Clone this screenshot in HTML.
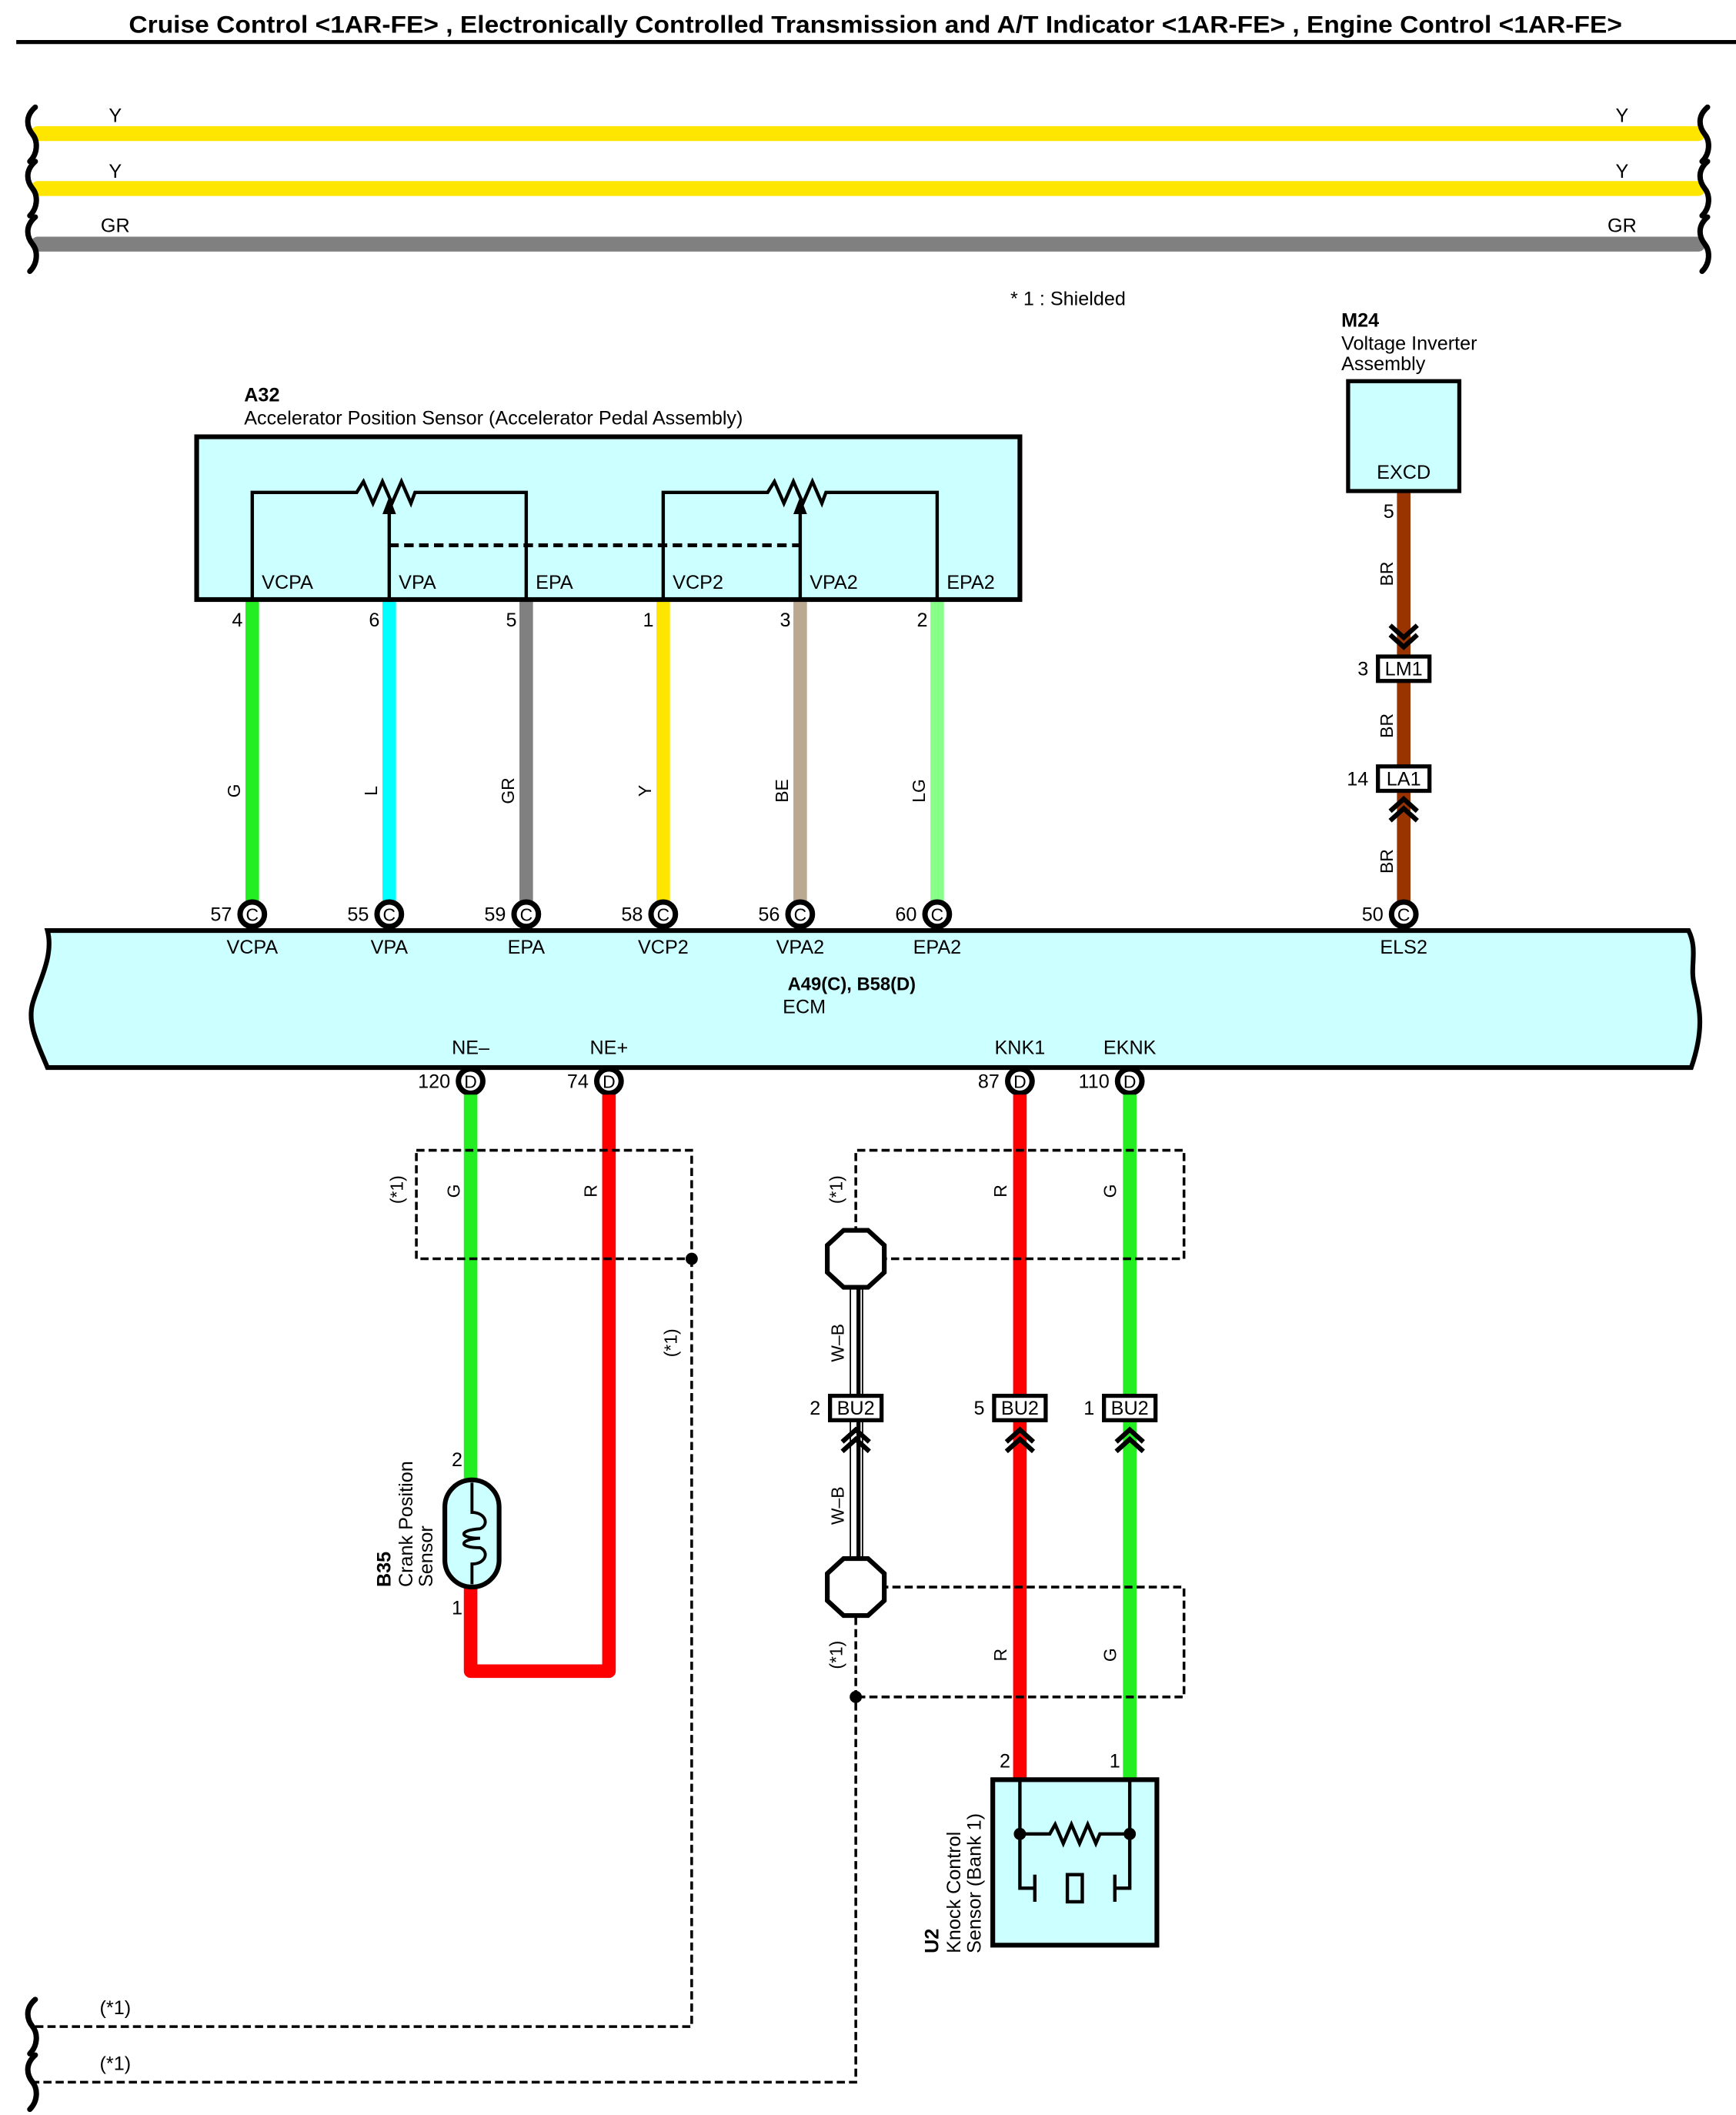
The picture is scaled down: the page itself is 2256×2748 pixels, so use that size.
<!DOCTYPE html>
<html><head><meta charset="utf-8"><style>html,body{margin:0;padding:0;background:#fff}svg{display:block}</style></head><body>
<svg xmlns="http://www.w3.org/2000/svg" width="2256" height="2748" viewBox="0 0 1280 1559.2" preserveAspectRatio="none" font-family="Liberation Sans, Arial, sans-serif" font-size="14.3">
<defs>
<path id="brk" d="M26,-20 C18,-13 20,-5 24,0 C28,5 28,14 22,20" fill="none" stroke="#000" stroke-width="4" stroke-linecap="round"/>
<g id="chD"><polyline points="-10,-9 0,0 10,-9" fill="none" stroke="#000" stroke-width="3.5"/><polyline points="-10,-2 0,7 10,-2" fill="none" stroke="#000" stroke-width="3.5"/></g>
<g id="chU"><polyline points="-10,9 0,0 10,9" fill="none" stroke="#000" stroke-width="3.5"/><polyline points="-10,2 0,-7 10,2" fill="none" stroke="#000" stroke-width="3.5"/></g>
</defs>
<rect width="1280" height="1560" fill="#fff"/>
<text x="95" y="24" font-size="18" font-weight="bold" textLength="1101" lengthAdjust="spacingAndGlyphs">Cruise Control &lt;1AR-FE&gt; , Electronically Controlled Transmission and A/T Indicator &lt;1AR-FE&gt; , Engine Control &lt;1AR-FE&gt;</text>
<line x1="12" y1="31" x2="1280" y2="31" stroke="#000" stroke-width="3"/>

<g stroke-width="11" stroke-linecap="round">
<line x1="28" y1="98.5" x2="1252" y2="98.5" stroke="#ffe600"/>
<line x1="28" y1="139" x2="1252" y2="139" stroke="#ffe600"/>
<line x1="28" y1="180" x2="1252" y2="180" stroke="#808080"/>
</g>
<use href="#brk" x="0" y="99"/><use href="#brk" x="0" y="139"/><use href="#brk" x="0" y="180"/>
<use href="#brk" x="1233" y="99"/><use href="#brk" x="1233" y="139"/><use href="#brk" x="1233" y="180"/>
<text x="85" y="90" text-anchor="middle">Y</text><text x="85" y="131" text-anchor="middle">Y</text><text x="85" y="171" text-anchor="middle">GR</text>
<text x="1196" y="90" text-anchor="middle">Y</text><text x="1196" y="131" text-anchor="middle">Y</text><text x="1196" y="171" text-anchor="middle">GR</text>

<text x="745" y="225">* 1 : Shielded</text>

<text x="989" y="241" font-weight="bold">M24</text>
<text x="989" y="258">Voltage Inverter</text>
<text x="989" y="273">Assembly</text>
<line x1="1035" y1="362" x2="1035" y2="668" stroke="#993300" stroke-width="10"/>
<rect x="994" y="281" width="82" height="81" fill="#ccffff" stroke="#000" stroke-width="3"/>
<text x="1035" y="353" text-anchor="middle">EXCD</text>
<text x="1024" y="382" text-anchor="middle">5</text>
<use href="#chD" x="1035" y="470"/>
<rect x="1016" y="484" width="38" height="18" fill="#fff" stroke="#000" stroke-width="3"/>
<text x="1035" y="498" text-anchor="middle">LM1</text><text x="1005" y="498" text-anchor="middle">3</text>
<rect x="1016" y="565" width="38" height="18" fill="#fff" stroke="#000" stroke-width="3"/>
<text x="1035" y="579" text-anchor="middle">LA1</text><text x="1001" y="579" text-anchor="middle">14</text>
<use href="#chU" x="1035" y="596"/>
<g font-size="13">
<text transform="translate(1027,423) rotate(-90)" text-anchor="middle">BR</text>
<text transform="translate(1027,535) rotate(-90)" text-anchor="middle">BR</text>
<text transform="translate(1027,635) rotate(-90)" text-anchor="middle">BR</text>
</g>

<text x="180" y="296" font-weight="bold">A32</text>
<text x="180" y="313">Accelerator Position Sensor (Accelerator Pedal Assembly)</text>
<g stroke-width="10">
<line x1="186" y1="442" x2="186" y2="664" stroke="#22ee22"/>
<line x1="287" y1="442" x2="287" y2="664" stroke="#00ffff"/>
<line x1="388" y1="442" x2="388" y2="664" stroke="#808080"/>
<line x1="489" y1="442" x2="489" y2="664" stroke="#ffe600"/>
<line x1="590" y1="442" x2="590" y2="664" stroke="#bba890"/>
<line x1="691" y1="442" x2="691" y2="664" stroke="#88ff88"/>
</g>
<rect x="145" y="322" width="607" height="120" fill="#ccffff" stroke="#000" stroke-width="3.5"/>
<g fill="none" stroke="#000" stroke-width="2.5">
<polyline points="186,442 186,363 263,363 268,355 275,371 282,355 289,371 296,355 303,371 306,363 388,363 388,442"/>
<line x1="287" y1="442" x2="287" y2="378"/>
<polyline points="489,442 489,363 566,363 571,355 578,371 585,355 592,371 599,355 606,371 609,363 691,363 691,442"/>
<line x1="590" y1="442" x2="590" y2="378"/>
<line x1="287" y1="402" x2="590" y2="402" stroke-dasharray="7,4" stroke-width="2.8"/>
</g>
<polygon points="287,366 282,379 292,379" fill="#000"/>
<polygon points="590,366 585,379 595,379" fill="#000"/>
<text x="193" y="434">VCPA</text><text x="294" y="434">VPA</text><text x="395" y="434">EPA</text>
<text x="496" y="434">VCP2</text><text x="597" y="434">VPA2</text><text x="698" y="434">EPA2</text>
<text x="175" y="462" text-anchor="middle">4</text><text x="276" y="462" text-anchor="middle">6</text><text x="377" y="462" text-anchor="middle">5</text>
<text x="478" y="462" text-anchor="middle">1</text><text x="579" y="462" text-anchor="middle">3</text><text x="680" y="462" text-anchor="middle">2</text>
<g font-size="13">
<text transform="translate(177,583) rotate(-90)" text-anchor="middle">G</text>
<text transform="translate(278,583) rotate(-90)" text-anchor="middle">L</text>
<text transform="translate(379,583) rotate(-90)" text-anchor="middle">GR</text>
<text transform="translate(480,583) rotate(-90)" text-anchor="middle">Y</text>
<text transform="translate(581,583) rotate(-90)" text-anchor="middle">BE</text>
<text transform="translate(682,583) rotate(-90)" text-anchor="middle">LG</text>
</g>

<path d="M35,686 L1245,686 C1252,700 1246,712 1249,725 C1252,740 1258,755 1247,787 L35,787 C28,770 20,755 24,740 C28,725 40,705 35,686 Z" fill="#ccffff" stroke="#000" stroke-width="3.5"/>
<g fill="#fff" stroke="#000" stroke-width="4">
<circle cx="186" cy="674" r="9"/><circle cx="287" cy="674" r="9"/><circle cx="388" cy="674" r="9"/>
<circle cx="489" cy="674" r="9"/><circle cx="590" cy="674" r="9"/><circle cx="691" cy="674" r="9"/><circle cx="1035" cy="674" r="9"/>
<circle cx="347" cy="797" r="9"/><circle cx="449" cy="797" r="9"/><circle cx="752" cy="797" r="9"/><circle cx="833" cy="797" r="9"/>
</g>
<g text-anchor="middle" font-size="13">
<text x="186" y="679">C</text><text x="287" y="679">C</text><text x="388" y="679">C</text><text x="489" y="679">C</text><text x="590" y="679">C</text><text x="691" y="679">C</text><text x="1035" y="679">C</text>
<text x="347" y="802">D</text><text x="449" y="802">D</text><text x="752" y="802">D</text><text x="833" y="802">D</text>
</g>
<g text-anchor="end">
<text x="171" y="679">57</text><text x="272" y="679">55</text><text x="373" y="679">59</text><text x="474" y="679">58</text><text x="575" y="679">56</text><text x="676" y="679">60</text><text x="1020" y="679">50</text>
<text x="332" y="802">120</text><text x="434" y="802">74</text><text x="737" y="802">87</text><text x="818" y="802">110</text>
</g>
<g text-anchor="middle">
<text x="186" y="703">VCPA</text><text x="287" y="703">VPA</text><text x="388" y="703">EPA</text><text x="489" y="703">VCP2</text><text x="590" y="703">VPA2</text><text x="691" y="703">EPA2</text><text x="1035" y="703">ELS2</text>
<text x="628" y="730" font-weight="bold" font-size="13.5">A49(C), B58(D)</text>
<text x="593" y="747">ECM</text>
<text x="347" y="777">NE–</text><text x="449" y="777">NE+</text><text x="752" y="777">KNK1</text><text x="833" y="777">EKNK</text>
</g>

<line x1="347" y1="807" x2="347" y2="1092" stroke="#22ee22" stroke-width="10"/>
<polyline points="449,807 449,1232 347,1232 347,1168" fill="none" stroke="#ff0000" stroke-width="10" stroke-linejoin="round"/>
<rect x="328" y="1091" width="40" height="79" rx="20" fill="#ccffff" stroke="#000" stroke-width="3.5"/>
<path d="M348,1093 L348,1115 C358,1115 361,1124 354,1127 C338,1128 338,1134 354,1134 C338,1135 338,1141 354,1141 C361,1144 358,1153 348,1153 L348,1168" fill="none" stroke="#000" stroke-width="2.2"/>
<text x="337" y="1081" text-anchor="middle">2</text><text x="337" y="1190" text-anchor="middle">1</text>
<text transform="translate(288,1170) rotate(-90)" font-weight="bold">B35</text>
<text transform="translate(304,1170) rotate(-90)">Crank Position</text>
<text transform="translate(319,1170) rotate(-90)">Sensor</text>
<g fill="none" stroke="#000" stroke-width="2" stroke-dasharray="6,3">
<rect x="307" y="848" width="203" height="80"/>
<polyline points="510,928 510,1494 25,1494"/>
</g>
<circle cx="510" cy="928" r="4.5"/>
<g font-size="13">
<text transform="translate(297,877) rotate(-90)" text-anchor="middle">(*1)</text>
<text transform="translate(339,878) rotate(-90)" text-anchor="middle">G</text>
<text transform="translate(440,878) rotate(-90)" text-anchor="middle">R</text>
<text transform="translate(499,990) rotate(-90)" text-anchor="middle">(*1)</text>
</g>

<line x1="752" y1="807" x2="752" y2="1311" stroke="#ff0000" stroke-width="10"/>
<line x1="833" y1="807" x2="833" y2="1311" stroke="#22ee22" stroke-width="10"/>
<g fill="none" stroke="#000" stroke-width="2" stroke-dasharray="6,3">
<polyline points="631,928 631,848 873,848 873,928 631,928"/>
<polyline points="631,1170 873,1170 873,1251 631,1251"/>
<polyline points="631,1192 631,1535 25,1535"/>
</g>
<circle cx="631" cy="1251" r="4.5"/>
<rect x="627" y="948" width="9" height="202" fill="#fff" stroke="#000" stroke-width="1"/>
<line x1="633" y1="948" x2="633" y2="1150" stroke="#000" stroke-width="3"/>
<polygon points="622,907 640,907 652,918 652,938 640,949 622,949 610,938 610,918" fill="#fff" stroke="#000" stroke-width="3.5"/>
<polygon points="622,1149 640,1149 652,1160 652,1180 640,1191 622,1191 610,1180 610,1160" fill="#fff" stroke="#000" stroke-width="3.5"/>
<g fill="#fff" stroke="#000" stroke-width="3">
<rect x="612" y="1029" width="38" height="18"/><rect x="733" y="1029" width="38" height="18"/><rect x="814" y="1029" width="38" height="18"/>
</g>
<g text-anchor="middle">
<text x="631" y="1043">BU2</text><text x="752" y="1043">BU2</text><text x="833" y="1043">BU2</text>
<text x="601" y="1043">2</text><text x="722" y="1043">5</text><text x="803" y="1043">1</text>
</g>
<use href="#chU" x="631" y="1061"/><use href="#chU" x="752" y="1061"/><use href="#chU" x="833" y="1061"/>
<g font-size="13">
<text transform="translate(621,877) rotate(-90)" text-anchor="middle">(*1)</text>
<text transform="translate(742,878) rotate(-90)" text-anchor="middle">R</text>
<text transform="translate(823,878) rotate(-90)" text-anchor="middle">G</text>
<text transform="translate(622,990) rotate(-90)" text-anchor="middle">W–B</text>
<text transform="translate(622,1110) rotate(-90)" text-anchor="middle">W–B</text>
<text transform="translate(621,1220) rotate(-90)" text-anchor="middle">(*1)</text>
<text transform="translate(742,1220) rotate(-90)" text-anchor="middle">R</text>
<text transform="translate(823,1220) rotate(-90)" text-anchor="middle">G</text>
</g>
<rect x="732" y="1312" width="121" height="122" fill="#ccffff" stroke="#000" stroke-width="3.5"/>
<g fill="none" stroke="#000" stroke-width="2.5">
<polyline points="752,1312 752,1392 763,1392"/>
<polyline points="833,1312 833,1392 822,1392"/>
<polyline points="752,1352 774,1352 778,1345 784,1359 790,1345 796,1359 802,1345 808,1359 811,1352 833,1352"/>
<line x1="763" y1="1382" x2="763" y2="1402"/><line x1="822" y1="1382" x2="822" y2="1402"/>
<rect x="787" y="1382" width="11" height="20"/>
</g>
<circle cx="752" cy="1352" r="4.5"/><circle cx="833" cy="1352" r="4.5"/>
<text x="741" y="1303" text-anchor="middle">2</text><text x="822" y="1303" text-anchor="middle">1</text>
<text transform="translate(692,1440) rotate(-90)" font-weight="bold">U2</text>
<text transform="translate(708,1440) rotate(-90)">Knock Control</text>
<text transform="translate(723,1440) rotate(-90)">Sensor (Bank 1)</text>

<use href="#brk" x="0" y="1494"/><use href="#brk" x="0" y="1535"/>
<text x="85" y="1485" text-anchor="middle">(*1)</text>
<text x="85" y="1526" text-anchor="middle">(*1)</text>
</svg>
</body></html>
